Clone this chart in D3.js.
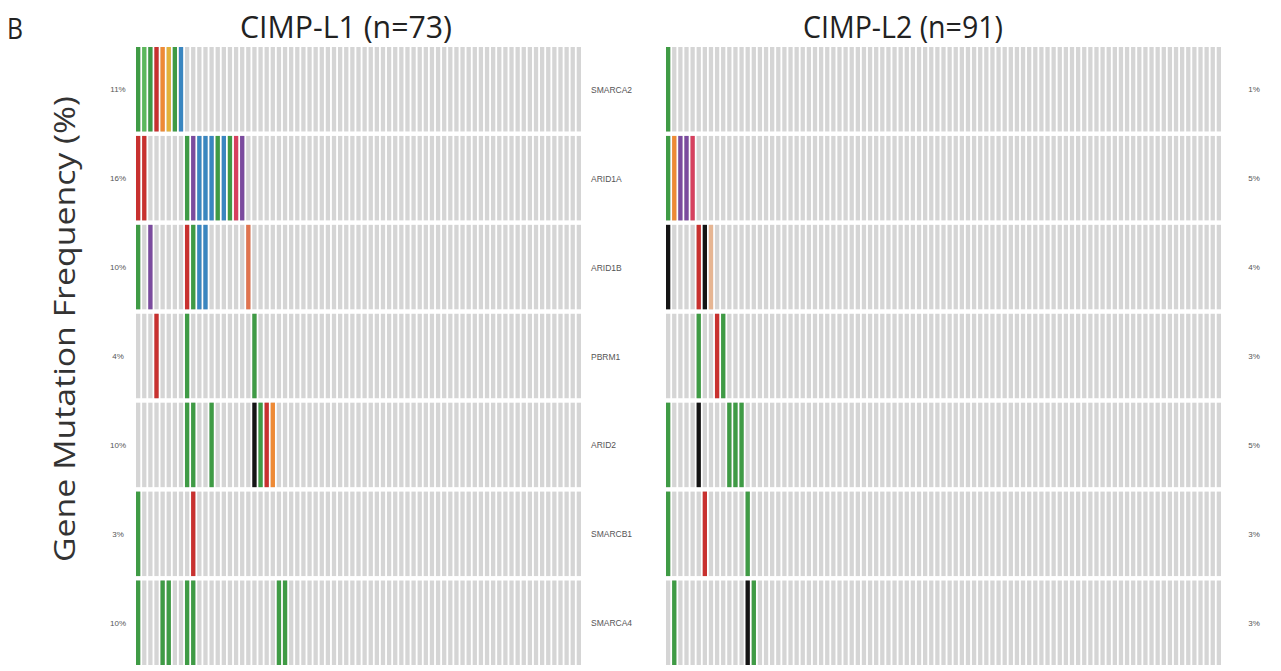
<!DOCTYPE html>
<html>
<head>
<meta charset="utf-8">
<script src="https://cdn.jsdelivr.net/npm/d3@7"></script>
<style>
  html, body { margin: 0; padding: 0; background: #fff; }
  svg { display: block; }
</style>
</head>
<body>
<svg id="chart" width="1281" height="671"></svg>
<script>
// Genes shown as oncoprint rows (top to bottom)
const genes = ["SMARCA2", "ARID1A", "ARID1B", "PBRM1", "ARID2", "SMARCB1", "SMARCA4"];

// Cohort sizes
const nL1 = 73;
const nL2 = 91;

// Mutation frequency labels per gene
const freqL1 = ["11%", "16%", "10%", "4%", "10%", "3%", "10%"];
const freqL2 = ["1%", "5%", "4%", "3%", "5%", "3%", "3%"];

// Mutated samples per gene: [sample column, alteration class]
const mutL1 = [
  [[0, "g"], [1, "lg"], [2, "g"], [3, "r"], [4, "o"], [5, "y"], [6, "g"], [7, "b"]],
  [[0, "r"], [1, "r"], [8, "g"], [9, "p"], [10, "b"], [11, "b"], [12, "b"], [13, "g"], [14, "b"], [15, "g"], [16, "pk"], [17, "p"]],
  [[0, "g"], [2, "p"], [8, "r"], [9, "g"], [10, "b"], [11, "b"], [18, "c"]],
  [[3, "r"], [8, "g"], [19, "g"]],
  [[8, "g"], [9, "g"], [12, "g"], [19, "k"], [20, "g"], [21, "r"], [22, "o"]],
  [[0, "g"], [9, "r"]],
  [[0, "g"], [4, "g"], [5, "g"], [8, "g"], [9, "g"], [23, "g"], [24, "g"]]
];
const mutL2 = [
  [[0, "g"]],
  [[0, "g"], [1, "o"], [2, "p"], [3, "p"], [4, "pk"]],
  [[0, "k"], [5, "r"], [6, "k"], [7, "t"]],
  [[5, "g"], [8, "r"], [9, "g"]],
  [[0, "g"], [5, "k"], [10, "g"], [11, "g"], [12, "g"]],
  [[0, "g"], [6, "r"], [13, "g"]],
  [[1, "g"], [13, "k"], [14, "g"]]
];

const colorOf = {
  g: "#3f9b45", lg: "#5cb85c", r: "#c8312f", o: "#ee8a35", y: "#e2b23a",
  b: "#3a86c0", p: "#7b4b9e", pk: "#d6405e", c: "#e0744f", k: "#151515", t: "#e6b592"
};

const svg = d3.select("#chart");

const y = d3.scaleBand().domain(genes).range([47, 665]).paddingInner(0.05);

function panel(n, x0, x1, muts) {
  const x = d3.scaleBand().domain(d3.range(n)).range([x0, x1]).paddingInner(0.3).paddingOuter(0);
  const g = svg.append("g");
  genes.forEach((gene, gi) => {
    g.selectAll(null)
      .data(d3.range(n))
      .join("rect")
      .attr("x", d => x(d))
      .attr("y", y(gene))
      .attr("width", x.bandwidth())
      .attr("height", y.bandwidth())
      .attr("fill", "#d5d5d5");
    g.selectAll(null)
      .data(muts[gi])
      .join("rect")
      .attr("x", d => x(d[0]))
      .attr("y", y(gene))
      .attr("width", x.bandwidth())
      .attr("height", y.bandwidth())
      .attr("fill", d => colorOf[d[1]]);
  });
  return x;
}

panel(nL1, 136, 581, mutL1);
panel(nL2, 666, 1221, mutL2);

const smallFont = "'Liberation Sans', Arial, sans-serif";

// Frequency labels on both sides
svg.append("g").selectAll("text")
  .data(genes)
  .join("text")
  .attr("x", 118)
  .attr("y", d => y(d) + y.bandwidth() / 2 + 3)
  .attr("text-anchor", "middle")
  .attr("font-family", smallFont)
  .attr("font-size", 8)
  .attr("fill", "#555")
  .text((d, i) => freqL1[i]);

svg.append("g").selectAll("text")
  .data(genes)
  .join("text")
  .attr("x", 1254)
  .attr("y", d => y(d) + y.bandwidth() / 2 + 3)
  .attr("text-anchor", "middle")
  .attr("font-family", smallFont)
  .attr("font-size", 8)
  .attr("fill", "#555")
  .text((d, i) => freqL2[i]);

// Gene names between panels
svg.append("g").selectAll("text")
  .data(genes)
  .join("text")
  .attr("x", 591)
  .attr("y", d => y(d) + y.bandwidth() / 2 + 3.5)
  .attr("font-family", smallFont)
  .attr("font-size", 8.5)
  .attr("fill", "#555")
  .text(d => d);

const bigFont = "'Open Sans', 'Noto Sans', sans-serif";

// Panel titles
svg.append("text")
  .attr("x", 346).attr("y", 38)
  .attr("text-anchor", "middle")
  .attr("font-family", bigFont)
  .attr("font-size", 31)
  .attr("textLength", 212)
  .attr("lengthAdjust", "spacingAndGlyphs")
  .attr("fill", "#222")
  .text(`CIMP-L1 (n=${nL1})`);

svg.append("text")
  .attr("x", 903).attr("y", 38)
  .attr("text-anchor", "middle")
  .attr("font-family", bigFont)
  .attr("font-size", 31)
  .attr("textLength", 200)
  .attr("lengthAdjust", "spacingAndGlyphs")
  .attr("fill", "#222")
  .text(`CIMP-L2 (n=${nL2})`);

// Panel letter
svg.append("text")
  .attr("x", 7).attr("y", 39)
  .attr("font-family", bigFont)
  .attr("font-size", 30)
  .attr("textLength", 16)
  .attr("lengthAdjust", "spacingAndGlyphs")
  .attr("fill", "#222")
  .text("B");

// Y axis title
svg.append("text")
  .attr("transform", "translate(75,329) rotate(-90)")
  .attr("text-anchor", "middle")
  .attr("font-family", bigFont)
  .attr("font-size", 30)
  .attr("textLength", 466)
  .attr("lengthAdjust", "spacingAndGlyphs")
  .attr("fill", "#333")
  .text("Gene Mutation Frequency (%)");
</script>
</body>
</html>
